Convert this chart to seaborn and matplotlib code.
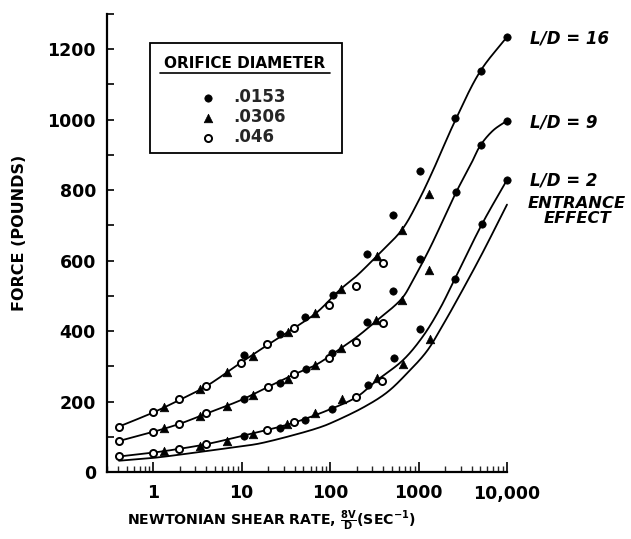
import matplotlib
matplotlib.use("Agg")
import matplotlib.pyplot as plt
import numpy as np
import pandas as pd
import seaborn as sns
from matplotlib.ticker import FixedLocator, LogLocator, NullFormatter, FixedFormatter, MultipleLocator
from matplotlib.patches import Rectangle
from matplotlib.lines import Line2D

# ---- fitted curves (shear rate, force) ----
ld16_x = [0.41, 1, 2, 4, 10, 20, 40, 70, 130, 200, 340, 650, 1000, 1410, 2600, 5000, 10000]
ld16_y = [129, 169, 205, 244, 312, 362, 410, 452, 518, 557, 614, 688, 770, 848, 998, 1138, 1235]

ld9_x = [0.41, 1, 2, 4, 10, 20, 40, 70, 130, 200, 330, 650, 870, 1340, 2660, 4000, 5000, 7000, 10000]
ld9_y = [88, 114, 137, 166, 205, 242, 278, 305, 350, 383, 428, 493, 546, 635, 794, 879, 927, 970, 997]

ld2_x = [0.41, 1, 2, 4, 10, 20, 40, 100, 200, 330, 670, 1120, 1730, 2570, 5200, 10000]
ld2_y = [44, 55, 66, 79, 102, 120, 141, 178, 213, 258, 318, 385, 462, 548, 703, 829]

entrance_x = [0.41, 1, 3.4, 10, 16, 46, 77, 100, 236, 440, 740, 1250, 1900, 2370, 4990, 10000]
entrance_y = [32, 40, 57, 73, 81, 110, 127, 138, 183, 226, 280, 344, 419, 461, 610, 759]

# ---- measured points by orifice diameter ----
d0153_x = [10.7, 27, 52, 107, 260, 520, 1040, 2590, 5080, 10000,
           10.5, 27, 53, 104, 260, 520, 1030, 2660, 5060, 10000,
           10.5, 27, 52, 104, 270, 530, 1030, 2570, 5200, 10000]
d0153_y = [332, 391, 439, 501, 619, 729, 853, 1006, 1138, 1235,
           206, 254, 292, 339, 426, 515, 605, 794, 927, 997,
           103, 125, 149, 179, 247, 323, 406, 548, 703, 828]

d0306_x = [1.33, 3.4, 6.8, 13.5, 33.5, 67, 132, 336, 656, 1314,
           1.33, 3.4, 6.8, 13.6, 33.5, 67, 132, 327, 650, 1320,
           1.33, 3.4, 6.8, 13.6, 32.8, 67, 135, 336, 662, 1340]
d0306_y = [184, 237, 285, 330, 398, 452, 520, 614, 686, 790,
           126, 158, 186, 219, 264, 304, 353, 431, 489, 574,
           59, 73, 88, 107, 135, 167, 208, 267, 306, 377]

d046_x = [0.41, 1, 1.98, 3.97, 9.7, 19.3, 39, 98, 196, 395,
          0.41, 1, 1.98, 3.97, 20, 39, 98, 196, 395,
          0.41, 1, 1.98, 3.97, 19.4, 39, 196, 385]
d046_y = [129, 170, 206, 245, 308, 362, 409, 473, 527, 592,
          88, 114, 137, 167, 242, 278, 325, 370, 422,
          44, 54, 65, 79, 120, 141, 212, 259]

x_ticks = [1, 10, 100, 1000, 10000]
x_ticklabels = ["1", "10", "100", "1000", "10,000"]
y_ticks = [0, 200, 400, 600, 800, 1000, 1200]
y_ticklabels = ["0", "200", "400", "600", "800", "1000", "1200"]


def smooth_curve(xs, ys, n=24):
    """Centripetal Catmull-Rom through the curve points, in log-x space."""
    P = np.column_stack([np.log10(xs) * 88.5, np.asarray(ys, float) * 0.355])
    P = np.vstack([2 * P[0] - P[1], P, 2 * P[-1] - P[-2]])
    segs = []
    for i in range(1, len(P) - 2):
        p0, p1, p2, p3 = P[i - 1:i + 3]
        t0 = 0.0
        t1 = t0 + np.linalg.norm(p1 - p0) ** 0.5
        t2 = t1 + np.linalg.norm(p2 - p1) ** 0.5
        t3 = t2 + np.linalg.norm(p3 - p2) ** 0.5
        t = np.linspace(t1, t2, n, endpoint=False)[:, None]
        a1 = (t1 - t) / (t1 - t0) * p0 + (t - t0) / (t1 - t0) * p1
        a2 = (t2 - t) / (t2 - t1) * p1 + (t - t1) / (t2 - t1) * p2
        a3 = (t3 - t) / (t3 - t2) * p2 + (t - t2) / (t3 - t2) * p3
        b1 = (t2 - t) / (t2 - t0) * a1 + (t - t0) / (t2 - t0) * a2
        b2 = (t3 - t) / (t3 - t1) * a2 + (t - t1) / (t3 - t1) * a3
        segs.append((t2 - t) / (t2 - t1) * b1 + (t - t1) / (t2 - t1) * b2)
    segs.append(P[-2][None, :])
    C = np.vstack(segs)
    return 10 ** (C[:, 0] / 88.5), C[:, 1] / 0.355


sns.set_theme(style="ticks")
plt.rcParams["font.family"] = ["DejaVu Sans"]
plt.rcParams["mathtext.fontset"] = "custom"
plt.rcParams["mathtext.rm"] = "DejaVu Sans:bold"
plt.rcParams["mathtext.it"] = "DejaVu Sans:italic:bold"

fig = plt.figure(figsize=(6.31, 5.39), dpi=100)
W, H = 631, 539
ax = fig.add_axes([107 / W, (H - 472) / H, 400 / W, 458 / H])
ax.set_facecolor("white")
fig.patch.set_facecolor("white")

frames = []
for name, cx, cy in [("L/D = 16", ld16_x, ld16_y), ("L/D = 9", ld9_x, ld9_y),
                     ("L/D = 2", ld2_x, ld2_y), ("entrance", entrance_x, entrance_y)]:
    sx, sy = smooth_curve(cx, cy)
    frames.append(pd.DataFrame({"rate": sx, "force": sy, "curve": name}))
curves = pd.concat(frames, ignore_index=True)
for name, grp in curves.groupby("curve", sort=False):
    sns.lineplot(data=grp, x="rate", y="force", color="black", lw=1.3,
                 sort=False, estimator=None, ax=ax, clip_on=False, zorder=2)

sns.scatterplot(x=d0153_x, y=d0153_y, marker="o", s=28, color="black",
                edgecolor="black", linewidth=0.5, ax=ax, clip_on=False, zorder=4,
                label=".0153")
sns.scatterplot(x=d0306_x, y=d0306_y, marker="^", s=38, color="black",
                edgecolor="black", linewidth=0.5, ax=ax, clip_on=False, zorder=4,
                label=".0306")
sns.scatterplot(x=d046_x, y=d046_y, marker="o", s=26, facecolor="white",
                edgecolor="black", linewidth=1.4, ax=ax, clip_on=False, zorder=5,
                label=".046")

ax.set_xscale("log")
ax.set_xlim(0.30, 10000)
ax.set_ylim(0, 1300)

ax.xaxis.set_major_locator(FixedLocator(x_ticks))
ax.xaxis.set_major_formatter(FixedFormatter(x_ticklabels))
ax.xaxis.set_minor_locator(LogLocator(base=10, subs=np.arange(2, 10)))
ax.xaxis.set_minor_formatter(NullFormatter())
ax.yaxis.set_major_locator(FixedLocator(y_ticks))
ax.yaxis.set_major_formatter(FixedFormatter(y_ticklabels))
ax.yaxis.set_minor_locator(MultipleLocator(200, offset=100))

for s in ("top", "right"):
    ax.spines[s].set_visible(False)
for s in ("left", "bottom"):
    ax.spines[s].set_linewidth(1.6)
    ax.spines[s].set_color("black")

ax.tick_params(axis="x", which="major", direction="in", length=7, width=1.2,
               pad=9, labelsize=12.5, colors="black")
ax.tick_params(axis="x", which="minor", direction="in", length=4, width=1.0)
ax.tick_params(axis="y", which="both", direction="in", length=5, width=1.2,
               pad=8, labelsize=12.5, colors="black")
for lab in ax.get_xticklabels() + ax.get_yticklabels():
    lab.set_fontweight("bold")

ax.set_ylabel("FORCE (POUNDS)", fontsize=11.5, fontweight="bold", color="black")
ax.yaxis.set_label_coords(-(107 - 20) / 400, 0.522)
ax.yaxis.label.set_va("center")
ax.set_xlabel("NEWTONIAN SHEAR RATE, $\\frac{\\mathrm{8V}}{\\mathrm{D}}$(SEC$^{-1}$)",
              fontsize=10.2, fontweight="bold", color="black")
ax.xaxis.set_label_coords((272 - 107) / 400, -(521 - 472) / 458)
ax.xaxis.label.set_va("center")

# curve labels
lab_kw = dict(fontsize=12, fontstyle="italic", fontweight="bold", color="black",
              va="center", ha="left", clip_on=False)
ax.text(18200, 1231, "L/D = 16", **lab_kw)
ax.text(18200, 992, "L/D = 9", **lab_kw)
ax.text(18200, 828, "L/D = 2", **lab_kw)
ax.text(61900, 741, "ENTRANCE\nEFFECT", fontsize=11.8, fontstyle="italic", fontweight="bold",
        color="black", ha="center", va="center", multialignment="center",
        linespacing=1.0, clip_on=False)

# legend box
def axx(px):
    return (px - 107) / 400


def axy(py):
    return 1 - (py - 14) / 458


ax.add_patch(Rectangle((axx(150), axy(153)), axx(342) - axx(150), axy(43) - axy(153),
                       transform=ax.transAxes, fill=True, facecolor="white",
                       edgecolor="black", lw=1.3, zorder=6))
ax.text(axx(245), axy(63), "ORIFICE DIAMETER", transform=ax.transAxes, fontsize=11,
        fontweight="bold", ha="center", va="center", color="black", zorder=7)
ax.add_line(Line2D([axx(160), axx(330)], [axy(73), axy(73)], transform=ax.transAxes,
                   color="black", lw=1.2, zorder=7))
leg = ax.legend(loc="upper left", bbox_to_anchor=(axx(200), axy(88)), frameon=False,
                prop={"size": 12, "weight": "bold"}, handlelength=1.0,
                handletextpad=1.0, labelspacing=0.12, borderpad=0, borderaxespad=0)
leg.set_zorder(8)

fig.savefig("out.png", dpi=100, facecolor="white")
